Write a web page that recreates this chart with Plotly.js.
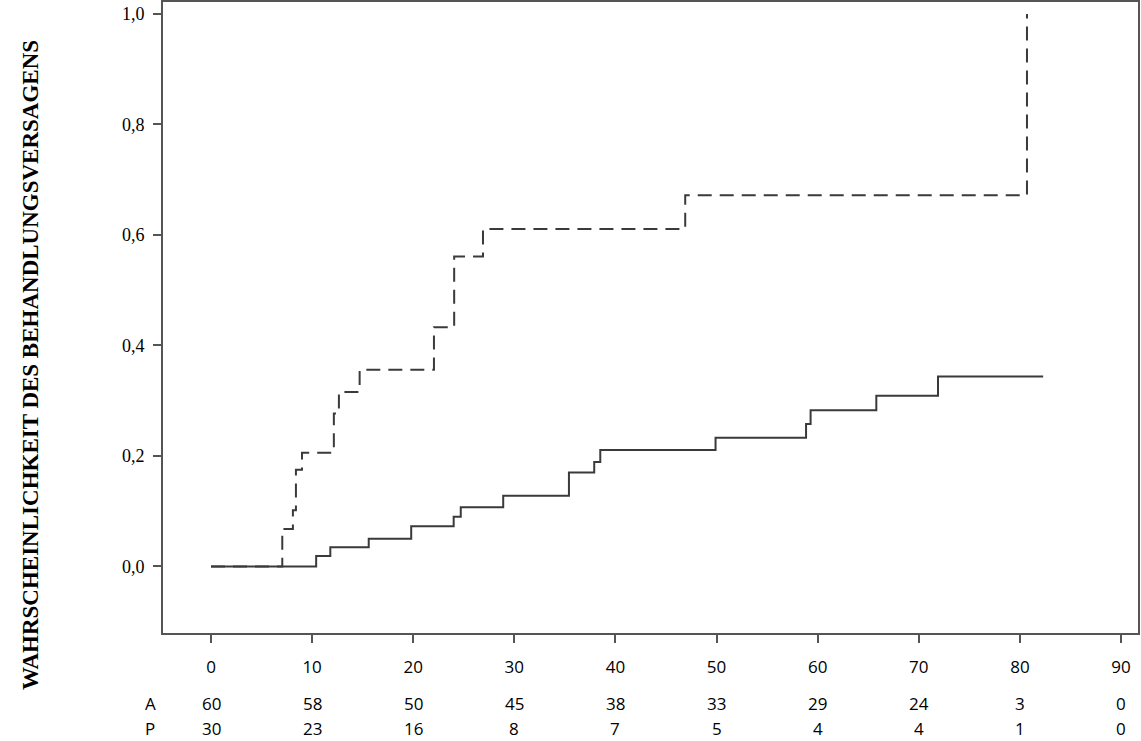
<!DOCTYPE html>
<html>
<head>
<meta charset="utf-8">
<script src="https://cdn.plot.ly/plotly-3.0.1.min.js"></script>
<style>html,body{margin:0;padding:0;background:#fff}#chart{width:1141px;height:741px}</style>
</head>
<body>
<div id="chart"></div>
<script>
// Group A (solid) – cumulative probability of treatment failure
const timesA = [0, 10.4, 11.8, 15.6, 19.8, 24.0, 24.7, 28.9, 35.4, 37.9, 38.5, 49.9, 58.85, 59.3, 65.8, 71.9, 82.3];
const probA  = [0, 0.019, 0.035, 0.050, 0.073, 0.090, 0.107, 0.128, 0.170, 0.189, 0.211, 0.233, 0.258, 0.283, 0.309, 0.344, 0.344];
// Group P (dashed)
const timesP = [0, 7.05, 8.1, 8.4, 9.0, 12.15, 12.65, 14.7, 22.05, 24.05, 26.9, 46.9, 80.7];
const probP  = [0, 0.068, 0.102, 0.175, 0.206, 0.277, 0.316, 0.356, 0.433, 0.561, 0.611, 0.672, 1.0];
// Numbers at risk
const riskTimes = [0, 10, 20, 30, 40, 50, 60, 70, 80, 90];
const riskA = [60, 58, 50, 45, 38, 33, 29, 24, 3, 0];
const riskP = [30, 23, 16, 8, 7, 5, 4, 4, 1, 0];
const groupNames = ['A', 'P'];
const yTicks = [0, 0.2, 0.4, 0.6, 0.8, 1.0];
const yTitle = 'WAHRSCHEINLICHKEIT DES BEHANDLUNGSVERSAGENS';

const lineColor = '#3a3a3a';
const traces = [
  {x: timesA, y: probA, type: 'scatter', mode: 'lines', line: {shape: 'hv', color: lineColor, width: 2}, name: groupNames[0], hoverinfo: 'skip'},
  {x: timesP, y: probP, type: 'scatter', mode: 'lines', line: {shape: 'hv', color: lineColor, width: 2, dash: '14px,8px'}, name: groupNames[1], hoverinfo: 'skip'}
];

const annotations = [];
const rows = [riskA, riskP];
const rowY = [-0.1125, -0.1506];
rows.forEach((row, r) => {
  annotations.push({xref: 'paper', yref: 'paper', x: -0.0133, y: rowY[r], text: groupNames[r], showarrow: false,
    xanchor: 'center', yanchor: 'middle', font: {family: 'Open Sans, sans-serif', size: 17, color: '#000'}});
  row.forEach((v, i) => {
    annotations.push({xref: 'x', yref: 'paper', x: riskTimes[i], y: rowY[r], text: String(v), showarrow: false,
      xanchor: 'center', yanchor: 'middle', font: {family: 'Open Sans, sans-serif', size: 17, color: '#000'}});
  });
});
annotations.push({xref: 'paper', yref: 'paper', x: -0.1364, y: 0.4247, text: '<b>' + yTitle + '</b>', textangle: -90,
  showarrow: false, xanchor: 'center', yanchor: 'middle', font: {family: 'Liberation Serif, Times New Roman, serif', size: 23, color: '#000'}});

const layout = {
  width: 1141, height: 741,
  margin: {l: 163, r: 3, t: 2, b: 108, pad: 0},
  paper_bgcolor: '#fff', plot_bgcolor: '#fff',
  separators: ',.',
  showlegend: false,
  xaxis: {
    range: [-4.747, 91.68], tickvals: riskTimes, ticks: 'outside', ticklen: 8, tickwidth: 2, tickcolor: '#555',
    showline: true, mirror: true, linecolor: '#555', linewidth: 2, showgrid: false, zeroline: false,
    ticklabelstandoff: 10,
    tickfont: {family: 'Open Sans, sans-serif', size: 17, color: '#000'}
  },
  yaxis: {
    range: [-0.1204, 1.0217], tickvals: yTicks, tickformat: '.1f', ticks: 'outside', ticklen: 8, tickwidth: 2, tickcolor: '#555',
    showline: true, mirror: true, linecolor: '#555', linewidth: 2, showgrid: false, zeroline: false,
    ticklabelstandoff: 5,
    tickfont: {family: 'Liberation Serif, Times New Roman, serif', size: 18, color: '#000'}
  },
  annotations: annotations
};
Plotly.newPlot('chart', traces, layout, {staticPlot: true, displayModeBar: false});
</script>
</body>
</html>
